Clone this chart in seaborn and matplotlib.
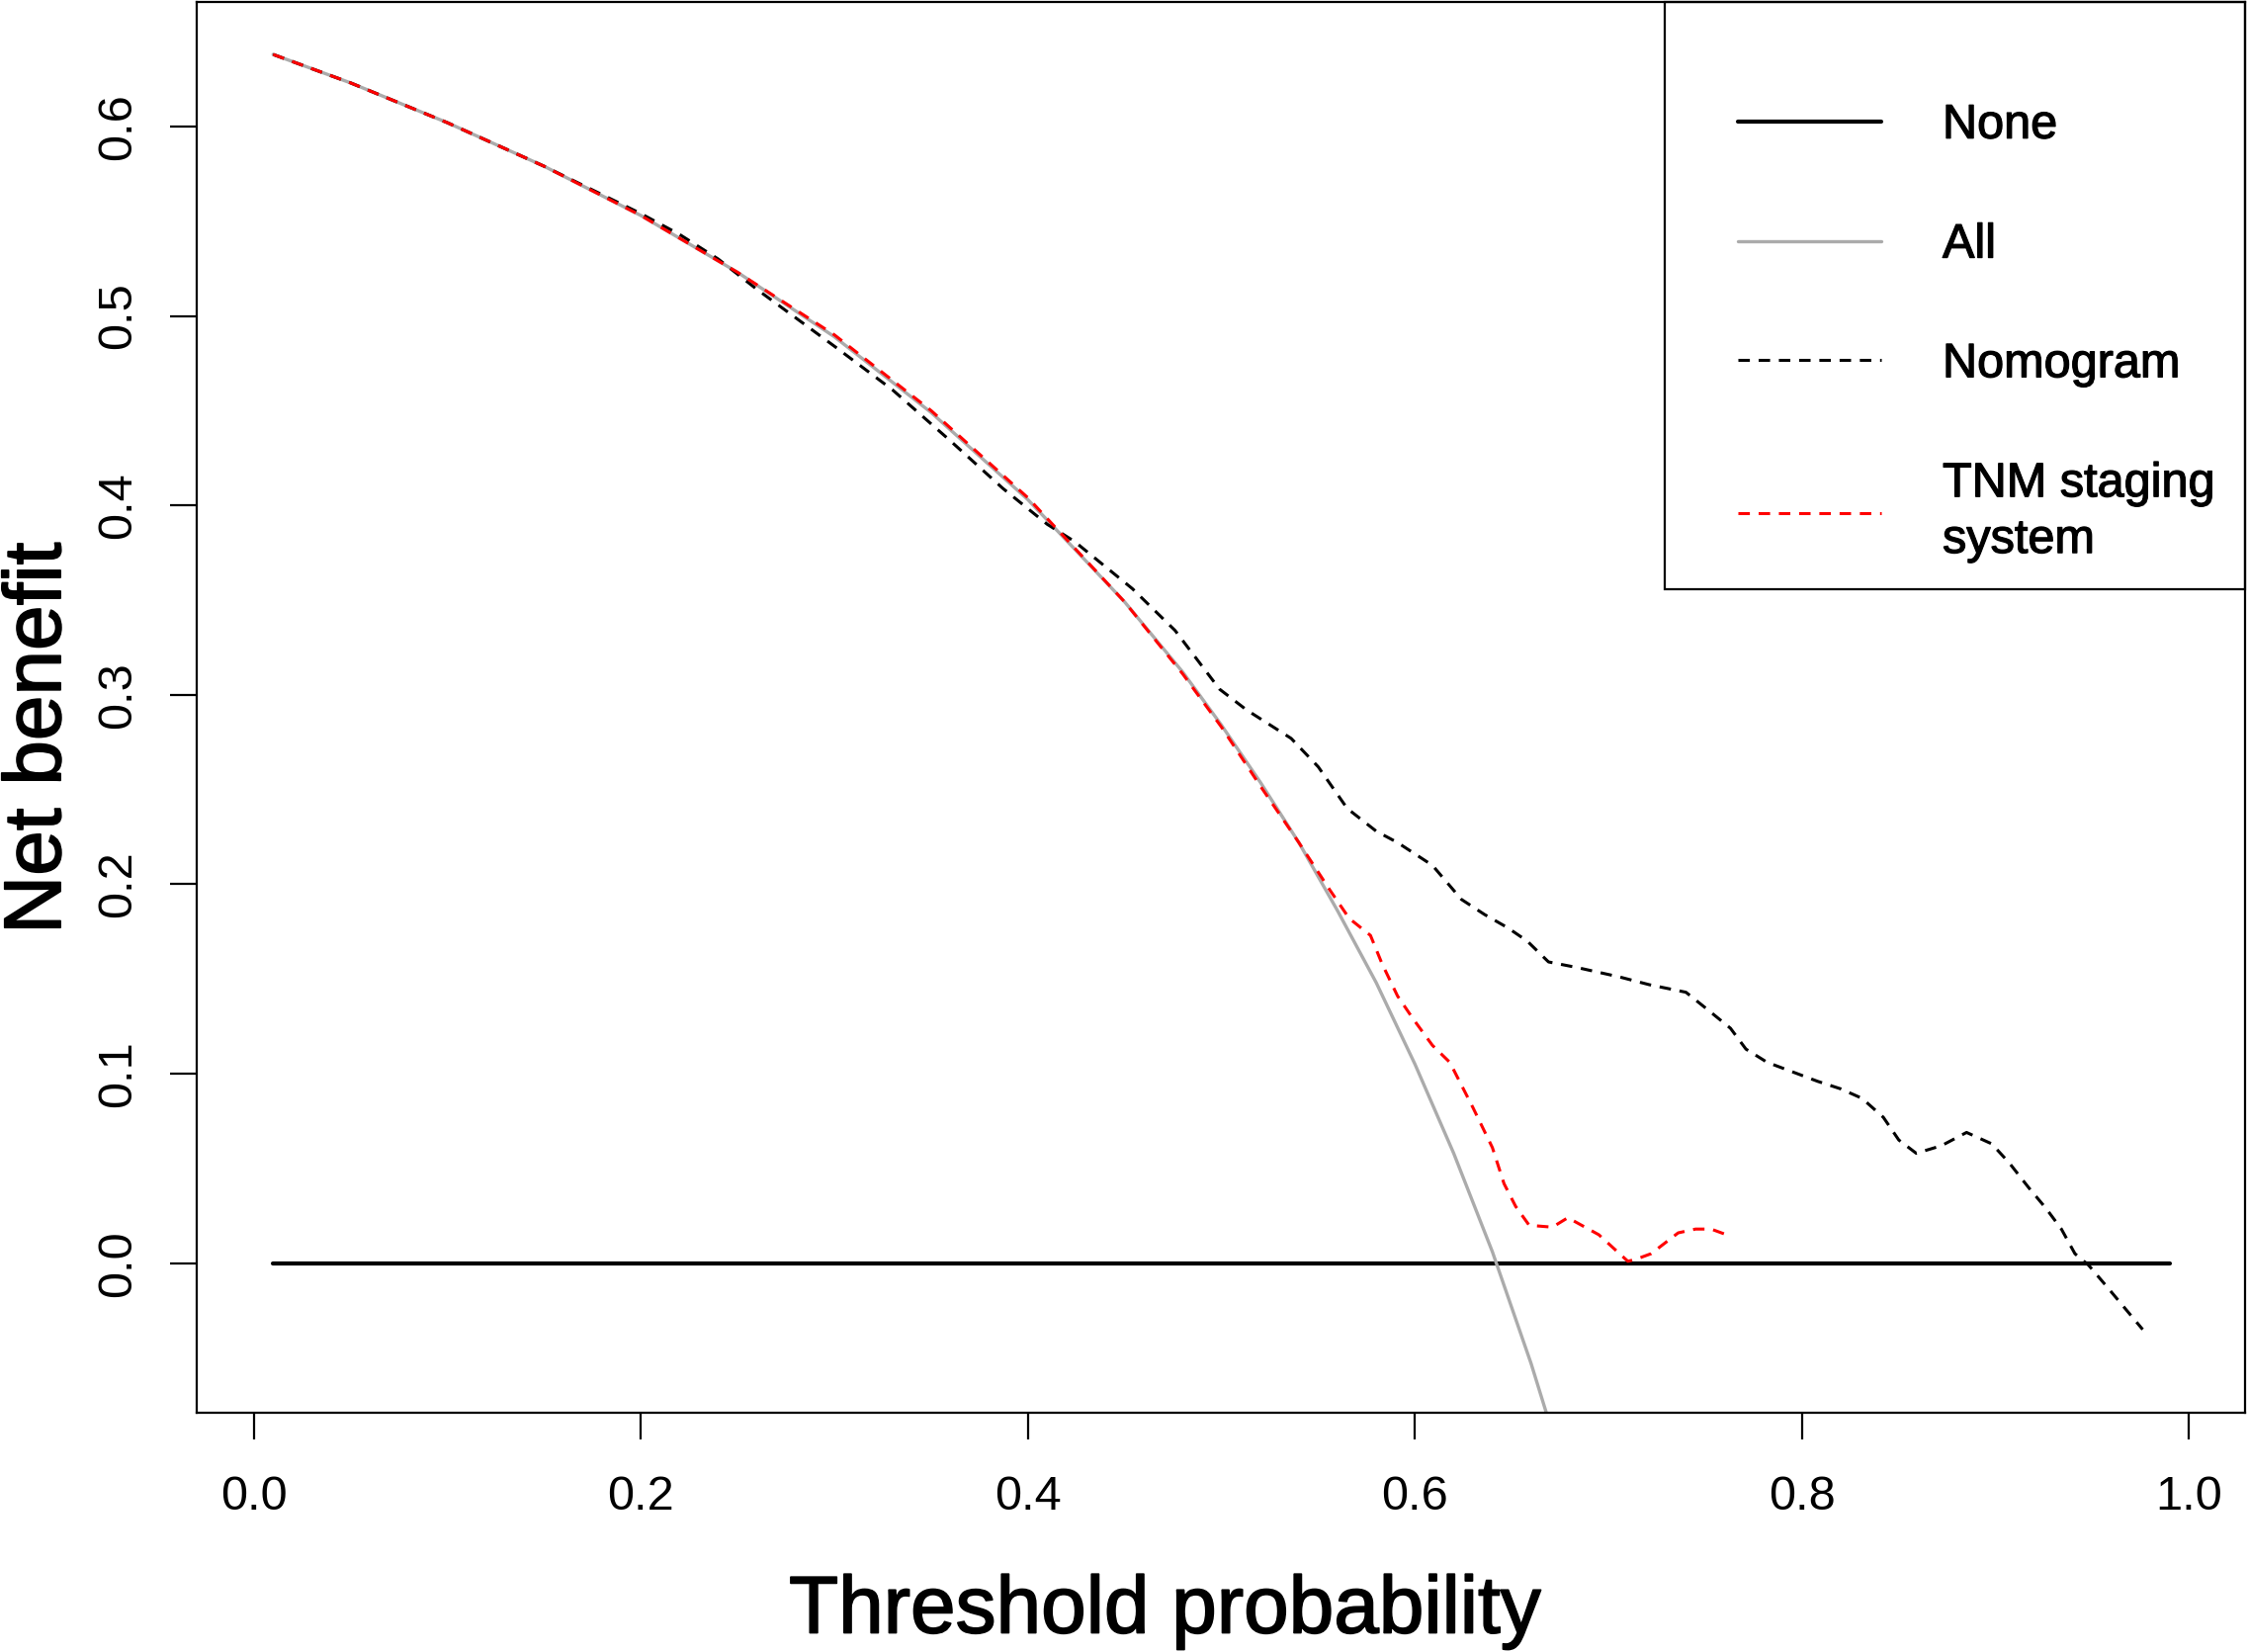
import matplotlib
matplotlib.use("Agg")
import matplotlib.pyplot as plt
import matplotlib.patheffects as pe
import seaborn as sns
import pandas as pd
from matplotlib.patches import Rectangle

# ---------------- data ----------------
t_none = [0.01, 0.99]
nb_none = [0.0, 0.0]

t_all = [0.01, 0.05, 0.10, 0.15, 0.20, 0.25, 0.30, 0.35, 0.40, 0.45, 0.48,
         0.50, 0.52, 0.54, 0.56, 0.58, 0.60, 0.62, 0.64, 0.66, 0.68]
nb_all = [0.638, 0.623, 0.602, 0.579, 0.553, 0.523, 0.489, 0.449, 0.403, 0.349, 0.312,
          0.284, 0.254, 0.222, 0.186, 0.148, 0.105, 0.058, 0.006, -0.053, -0.119]

t_nom = [0.01, 0.05, 0.10, 0.15, 0.18, 0.20, 0.22, 0.24, 0.26, 0.28,
         0.30, 0.33, 0.36, 0.387, 0.41, 0.424, 0.454, 0.476, 0.499, 0.513,
         0.536, 0.55, 0.565, 0.58, 0.591, 0.609, 0.624, 0.636, 0.648, 0.658,
         0.669, 0.684, 0.706, 0.721, 0.740, 0.751, 0.763, 0.771, 0.782, 0.795,
         0.808, 0.820, 0.831, 0.842, 0.850, 0.859, 0.872, 0.885, 0.898, 0.907,
         0.917, 0.926, 0.934, 0.941, 0.948, 0.958, 0.967, 0.976]
nb_nom = [0.638, 0.623, 0.602, 0.579, 0.564, 0.554, 0.543, 0.530, 0.514, 0.499,
          0.484, 0.461, 0.434, 0.409, 0.390, 0.381, 0.356, 0.334, 0.303, 0.292,
          0.277, 0.262, 0.240, 0.228, 0.222, 0.210, 0.192, 0.184, 0.177, 0.170,
          0.159, 0.156, 0.151, 0.147, 0.143, 0.134, 0.124, 0.113, 0.106, 0.101,
          0.096, 0.092, 0.087, 0.077, 0.065, 0.058, 0.062, 0.069, 0.063, 0.053,
          0.040, 0.029, 0.018, 0.005, -0.001, -0.013, -0.024, -0.035]

t_tnm = [0.01, 0.05, 0.10, 0.15, 0.20, 0.25, 0.30, 0.35, 0.40, 0.45,
         0.48, 0.50, 0.52, 0.54, 0.556, 0.566, 0.577, 0.583, 0.591, 0.599,
         0.609, 0.618, 0.630, 0.640, 0.646, 0.652, 0.659, 0.671, 0.679, 0.695,
         0.710, 0.714, 0.722, 0.736, 0.745, 0.753, 0.761]
nb_tnm = [0.638, 0.623, 0.602, 0.579, 0.553, 0.523, 0.490, 0.450, 0.404, 0.349,
          0.311, 0.283, 0.252, 0.222, 0.197, 0.182, 0.173, 0.158, 0.141, 0.129,
          0.115, 0.106, 0.082, 0.061, 0.042, 0.030, 0.020, 0.019, 0.024, 0.015,
          0.001, 0.002, 0.005, 0.016, 0.018, 0.018, 0.015]

x_ticks = [0.0, 0.2, 0.4, 0.6, 0.8, 1.0]
x_tick_labels = ["0.0", "0.2", "0.4", "0.6", "0.8", "1.0"]
y_ticks = [0.0, 0.1, 0.2, 0.3, 0.4, 0.5, 0.6]
y_tick_labels = ["0.0", "0.1", "0.2", "0.3", "0.4", "0.5", "0.6"]
legend_labels = ["None", "All", "Nomogram", "TNM staging\nsystem"]
x_label = "Threshold probability"
y_label = "Net benefit"

# ---------------- style ----------------
sns.set_style("white")
plt.rcParams['font.family'] = ['Liberation Sans', 'DejaVu Sans']
tick_family = ['Liberation Sans Narrow', 'Liberation Sans', 'DejaVu Sans']

fig = plt.figure(figsize=(22.74, 16.71), dpi=100)
fig.patch.set_facecolor("white")
ax = fig.add_axes([0.08738, 0.14512, 0.91130, 0.85368])
ax.set_facecolor("white")

df_none = pd.DataFrame({"t": t_none, "nb": nb_none})
df_all = pd.DataFrame({"t": t_all, "nb": nb_all})
df_nom = pd.DataFrame({"t": t_nom, "nb": nb_nom})
df_tnm = pd.DataFrame({"t": t_tnm, "nb": nb_tnm})

sns.lineplot(data=df_none, x="t", y="nb", ax=ax, color="black", lw=3.0,
             estimator=None, sort=False)
sns.lineplot(data=df_all, x="t", y="nb", ax=ax, color="#ababab", lw=2.4,
             estimator=None, sort=False)
sns.lineplot(data=df_nom, x="t", y="nb", ax=ax, color="black", lw=2.2,
             linestyle=(0, (3.8, 2.9)), estimator=None, sort=False)
sns.lineplot(data=df_tnm, x="t", y="nb", ax=ax, color="#ff0000", lw=2.2,
             linestyle=(0, (3.8, 2.9)), estimator=None, sort=False)

handles = list(ax.get_lines())[:4]

ax.set_xlim(-0.02963, 1.02889)
ax.set_ylim(-0.0787, 0.6657)

ax.set_xticks(x_ticks)
ax.set_xticklabels(x_tick_labels)
ax.set_yticks(y_ticks)
ax.set_yticklabels(y_tick_labels)

ax.tick_params(axis="both", which="major", direction="out", length=19.5,
               width=1.6, color="black", labelcolor="black", labelsize=35,
               bottom=True, left=True, top=False, right=False)
ax.tick_params(axis="x", pad=26)
ax.tick_params(axis="y", pad=21, labelrotation=90)
for lab in ax.get_xticklabels() + ax.get_yticklabels():
    lab.set_family(tick_family)
for lab in ax.get_yticklabels():
    lab.set_va("center")

for sp in ax.spines.values():
    sp.set_color("black")
    sp.set_linewidth(1.6)
    sp.set_visible(True)

heavy = [pe.withStroke(linewidth=1.2, foreground="black")]
ax.set_xlabel(x_label, fontsize=59, color="black", path_effects=heavy)
ax.set_ylabel(y_label, fontsize=59, color="black", path_effects=heavy)
ax.xaxis.set_label_coords(0.473, -0.1150)
ax.yaxis.set_label_coords(-0.0582, 0.478)

leg = ax.legend(handles=handles, labels=legend_labels, loc="upper left",
                bbox_to_anchor=(0.7524, 0.928), bbox_transform=ax.transAxes,
                frameon=False, fontsize=35, handlelength=2.98,
                handletextpad=1.28, labelspacing=1.56, borderpad=0,
                borderaxespad=0)
for txt in leg.get_texts():
    txt.set_color("black")
    txt.set_path_effects([pe.withStroke(linewidth=0.9, foreground="black")])
leg.get_texts()[3].set_linespacing(1.34)

ax.add_patch(Rectangle((0.7166, 0.5838), 0.2834, 0.4162, transform=ax.transAxes,
                       fill=False, edgecolor="black", linewidth=1.6,
                       clip_on=False, zorder=6))

fig.savefig("out.png", dpi=100, facecolor="white")
